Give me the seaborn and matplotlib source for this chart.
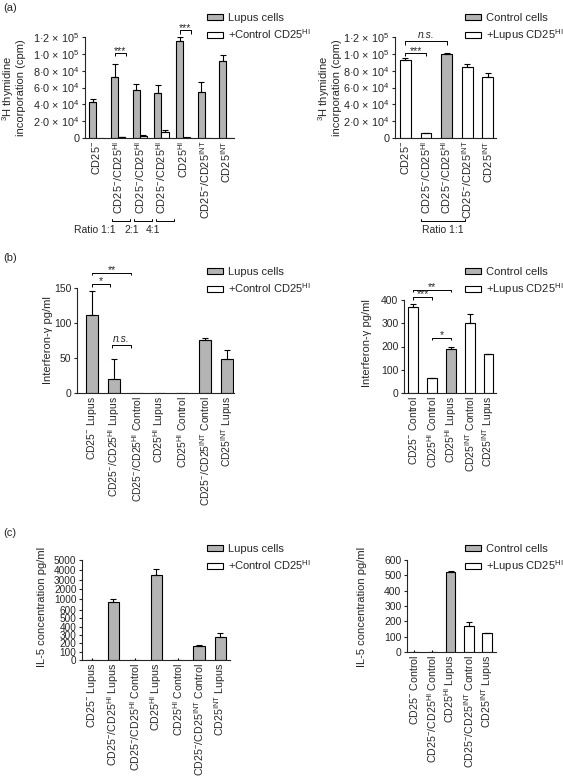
import numpy as np
import pandas as pd
import matplotlib
matplotlib.use("Agg")
import matplotlib.pyplot as plt
import matplotlib.transforms as mtransforms
from matplotlib.patches import Patch
from matplotlib.ticker import FixedLocator
import seaborn as sns

# ---------------- data ----------------
M = "CD25$^{-}$"
HI = "CD25$^{HI}$"
INT = "CD25$^{INT}$"

# (a) proliferation
a_left_labels = [M, M + "/" + HI, M + "/" + HI, M + "/" + HI, HI, M + "/" + INT, INT]
a_left_lupus = [43000, 72000, 57000, 53000, 115000, 55000, 92000]
a_left_lupus_err = [3000, 16000, 7000, 10000, 5000, 12000, 7000]
a_left_ctrl = [300, 1200, 2400, 7100, 600, 400, 300]
a_left_ctrl_err = [0, 300, 600, 2800, 0, 0, 0]
a_left_series = ["Lupus cells", "+Control " + HI]

a_right_labels = [M, M + "/" + HI, M + "/" + HI, M + "/" + INT, INT]
a_right_values = [93000, 5500, 100000, 84000, 72000]
a_right_err = [1500, 300, 1200, 4500, 5000]
a_right_kind = ["w", "w", "g", "w", "w"]
a_right_series = ["Control cells", "+Lupus " + HI]
a_yticks = [0, 20000, 40000, 60000, 80000, 100000, 120000]
a_yticklabels = ["0", "2·0 × 10$^{4}$", "4·0 × 10$^{4}$", "6·0 × 10$^{4}$",
                 "8·0 × 10$^{4}$", "1·0 × 10$^{5}$", "1·2 × 10$^{5}$"]

# (b) interferon-gamma
b_left_labels = [M + " Lupus", M + "/" + HI + " Lupus", M + "/" + HI + " Control",
                 HI + " Lupus", HI + " Control", M + "/" + INT + " Control", INT + " Lupus"]
b_left_values = [112, 20, 0, 0, 0, 76, 49]
b_left_err = [34, 28, 0, 0, 0, 2, 13]
b_right_labels = [M + " Control", HI + " Control", HI + " Lupus", INT + " Control", INT + " Lupus"]
b_right_values = [372, 63, 190, 303, 167]
b_right_err = [10, 2, 10, 38, 2]
b_right_kind = ["w", "w", "g", "w", "w"]

# (c) IL-5
c_left_labels = b_left_labels
c_left_values = [0, 910, 0, 3470, 0, 165, 275]
c_left_err = [25, 90, 25, 600, 25, 15, 45]
c_left_ticks = [0, 100, 200, 300, 400, 500, 600, 1000, 2000, 3000, 4000, 5000]
c_right_labels = [M + " Control", M + "/" + HI + " Control", HI + " Lupus",
                  M + "/" + INT + " Control", INT + " Lupus"]
c_right_values = [0, 0, 520, 172, 122]
c_right_err = [15, 15, 8, 22, 4]
c_right_kind = ["w", "w", "g", "w", "w"]

# ---------------- style ----------------
sns.set_style("ticks")
plt.rcParams["font.family"] = ["Liberation Sans", "DejaVu Sans"]
plt.rcParams["mathtext.fontset"] = "custom"
plt.rcParams["mathtext.rm"] = "Liberation Sans"
plt.rcParams["mathtext.it"] = "Liberation Sans:italic"
plt.rcParams["mathtext.bf"] = "Liberation Sans:bold"
plt.rcParams["mathtext.default"] = "rm"

GREY = "#b4b4b4"
WHITE = "#ffffff"
COL = {"g": GREY, "w": WHITE}
W, H = 563, 779
TICK_FS = 7.5
LAB_FS = 8
LEG_FS = 8
LW = 0.8

fig = plt.figure(figsize=(W / 100, H / 100), dpi=100)


def add_ax(l, t, r, b):
    return fig.add_axes([l / W, 1 - b / H, (r - l) / W, (b - t) / H])


def style_ax(ax, labels, xfs=TICK_FS, yfs=TICK_FS):
    sns.despine(ax=ax)
    for s in ["left", "bottom"]:
        ax.spines[s].set_linewidth(LW)
    ax.tick_params(axis="y", length=2.5, width=LW, pad=1.5, labelsize=yfs, direction="out")
    ax.tick_params(axis="x", length=0, pad=2, labelsize=xfs)
    ax.set_xticks(range(len(labels)))
    ax.set_xticklabels(labels, rotation=90, ha="center", va="top")
    ax.set_xlabel("")
    ax.set_ylabel("")


def draw_err(ax, xs, values, errs):
    v = np.array(values, float)
    e = np.array(errs, float)
    m = (e > 0) & (v > 0)
    ax.errorbar(xs[m], v[m], yerr=[np.zeros(m.sum()), e[m]], fmt="none", ecolor="black",
                elinewidth=LW, capsize=2.2, capthick=LW, zorder=5)
    z = (e > 0) & (v <= 0)
    if z.any():
        ax.errorbar(xs[z], v[z], yerr=[np.zeros(z.sum()), e[z]], fmt="none", ecolor="black",
                    elinewidth=LW, capsize=0, zorder=5)


def single_panel(ax, labels, values, errs, kinds, width):
    keys = ["k%d" % i for i in range(len(values))]
    df = pd.DataFrame({"key": keys, "value": values})
    pal = {k: COL[c] for k, c in zip(keys, kinds)}
    sns.barplot(data=df, x="key", y="value", hue="key", order=keys, hue_order=keys,
                palette=pal, width=width, edgecolor="black", linewidth=LW,
                legend=False, errorbar=None, ax=ax, saturation=1)
    bars = sorted(ax.patches, key=lambda p: p.get_x())
    xs = np.array([p.get_x() + p.get_width() / 2 for p in bars])
    draw_err(ax, xs, values, errs)
    return xs


def bracket(ax, x1, x2, y, drop, text, italic=False, tpad=0.0, fs=7.5):
    ax.plot([x1, x1, x2, x2], [y - drop, y, y, y - drop], color="black", lw=0.7,
            clip_on=False, solid_capstyle="butt")
    ax.text((x1 + x2) / 2, y + tpad, text, ha="center", va="bottom", fontsize=fs,
            style="italic" if italic else "normal", clip_on=False)


def legend(px, py, names):
    handles = [Patch(facecolor=GREY, edgecolor="black", linewidth=LW),
               Patch(facecolor=WHITE, edgecolor="black", linewidth=LW)]
    fig.legend(handles, names, loc="upper left", bbox_to_anchor=(px / W, 1 - py / H),
               frameon=False, fontsize=LEG_FS, handlelength=1.45, handleheight=0.45,
               handletextpad=0.45, labelspacing=0.4, borderpad=0, borderaxespad=0)


def flabel(px, py, text, fs=LAB_FS, rot=90, ls=1.2):
    fig.text(px / W, 1 - py / H, text, rotation=rot, ha="center", va="center", fontsize=fs,
             linespacing=ls)


# ================= (a) left =================
ax = add_ax(85, 37, 234, 138)
dfa = pd.DataFrame({
    "key": ["k%d" % i for i in range(7)] * 2,
    "value": a_left_lupus + a_left_ctrl,
    "series": [a_left_series[0]] * 7 + [a_left_series[1]] * 7,
})
sns.barplot(data=dfa, x="key", y="value", hue="series", palette=[GREY, WHITE],
            width=0.66, dodge=True, edgecolor="black", linewidth=LW, legend=False,
            errorbar=None, ax=ax, saturation=1)
pat = ax.patches
gx = np.array([p.get_x() + p.get_width() / 2 for p in pat[:7]])
wx = np.array([p.get_x() + p.get_width() / 2 for p in pat[7:14]])
draw_err(ax, gx, a_left_lupus, a_left_lupus_err)
draw_err(ax, wx, a_left_ctrl, a_left_ctrl_err)
style_ax(ax, a_left_labels, xfs=7.9, yfs=7.8)
ax.set_ylim(0, 120000)
ax.set_xlim(-0.53, 6.35)
ax.set_yticks(a_yticks)
ax.set_yticklabels(a_yticklabels)
bracket(ax, gx[1], wx[1] + 0.2, 101000, 4000, "***", tpad=-3500)
bracket(ax, gx[4], wx[4] + 0.2, 128000, 4000, "***", tpad=-3500)
# ratio brackets
tr = mtransforms.blended_transform_factory(ax.transData, fig.transFigure)
for i in [1, 2, 3]:
    c = i + 0.15
    ax.plot([c - 0.42, c - 0.42, c + 0.42, c + 0.42],
            [1 - 218.5 / H, 1 - 221.5 / H, 1 - 221.5 / H, 1 - 218.5 / H],
            color="black", lw=0.7, transform=tr, clip_on=False)
ax.text(1 - 0.1, 1 - 230 / H, "Ratio 1:1", transform=tr, ha="right", va="center", fontsize=TICK_FS)
ax.text(2 - 0.35, 1 - 230 / H, "2:1", transform=tr, ha="center", va="center", fontsize=TICK_FS)
ax.text(3 - 0.4, 1 - 230 / H, "4:1", transform=tr, ha="center", va="center", fontsize=TICK_FS)
flabel(13, 88, "$^{3}$H thymidine\nincorporation (cpm)", ls=0.95)
legend(207, 13, a_left_series)

# ================= (a) right =================
ax = add_ax(395, 37, 496, 138)
xs = single_panel(ax, a_right_labels, a_right_values, a_right_err, a_right_kind, 0.52)
style_ax(ax, a_right_labels, xfs=7.9, yfs=7.8)
ax.set_ylim(0, 120000)
ax.set_xlim(-0.5, 4.4)
ax.set_yticks(a_yticks)
ax.set_yticklabels(a_yticklabels)
bracket(ax, xs[0], xs[2], 115000, 4000, "n.s.", italic=True, tpad=1000)
bracket(ax, xs[0], xs[1], 101000, 4000, "***", tpad=-3500)
tr = mtransforms.blended_transform_factory(ax.transData, fig.transFigure)
ax.plot([0.78, 0.78, 2.9, 2.9], [1 - 218.5 / H, 1 - 221.5 / H, 1 - 221.5 / H, 1 - 218.5 / H],
        color="black", lw=0.7, transform=tr, clip_on=False)
ax.text(1.84, 1 - 230 / H, "Ratio 1:1", transform=tr, ha="center", va="center", fontsize=TICK_FS)
flabel(329, 88, "$^{3}$H thymidine\nincorporation (cpm)", ls=0.95)
legend(465, 13, a_right_series)

# ================= (b) left =================
ax = add_ax(77, 288, 234, 393)
xs = single_panel(ax, b_left_labels, b_left_values, b_left_err, ["g"] * 7, 0.52)
style_ax(ax, b_left_labels)
ax.set_ylim(0, 150)
ax.set_xlim(-0.65, 6.3)
ax.set_yticks([0, 50, 100, 150])
bracket(ax, xs[0], xs[2] - 0.25, 172, 4, "**", tpad=-3)
bracket(ax, xs[0], xs[1] - 0.2, 156, 4, "*", tpad=-3)
bracket(ax, xs[1] - 0.1, xs[2] - 0.25, 69, 4, "n.s.", italic=True, tpad=1)
flabel(48, 340, "Interferon-γ pg/ml")
legend(207, 267, a_left_series)

# ================= (b) right =================
ax = add_ax(404, 300, 496, 393)
xs = single_panel(ax, b_right_labels, b_right_values, b_right_err, b_right_kind, 0.53)
style_ax(ax, b_right_labels)
ax.set_ylim(0, 400)
ax.set_xlim(-0.5, 4.4)
ax.set_yticks([0, 100, 200, 300, 400])
bracket(ax, xs[0], xs[2], 443, 10, "**", tpad=-8)
bracket(ax, xs[0], xs[1], 411, 10, "***", tpad=-8)
bracket(ax, xs[1], xs[2], 237, 10, "*", tpad=-8)
flabel(367, 343, "Interferon-γ pg/ml")
legend(465, 267, a_right_series)

# ================= (c) left =================
ax = add_ax(82, 560, 230, 660)
xs = single_panel(ax, c_left_labels, c_left_values, c_left_err, ["g"] * 7, 0.52)
style_ax(ax, c_left_labels, xfs=7.7, yfs=7.2)


def fwd(v):
    v = np.asarray(v, dtype=float)
    return np.where(v <= 600, v * 0.083,
                    np.where(v <= 1000, 49.8 + (v - 600) * 0.0275, 60.8 + (v - 1000) * 0.00975))


def inv(u):
    u = np.asarray(u, dtype=float)
    return np.where(u <= 49.8, u / 0.083,
                    np.where(u <= 60.8, 600 + (u - 49.8) / 0.0275, 1000 + (u - 60.8) / 0.00975))


ax.set_yscale("function", functions=(fwd, inv))
ax.set_ylim(0, 5000)
ax.yaxis.set_major_locator(FixedLocator(c_left_ticks))
ax.set_yticklabels([str(t) for t in c_left_ticks])
ax.yaxis.set_minor_locator(FixedLocator([]))
ax.set_xlim(-0.47, 6.45)
flabel(42, 607, "IL-5 concentration pg/ml")
legend(207, 544, a_left_series)

# ================= (c) right =================
ax = add_ax(407, 560, 496, 652)
xs = single_panel(ax, c_right_labels, c_right_values, c_right_err, c_right_kind, 0.53)
style_ax(ax, c_right_labels, xfs=7.7)
ax.set_ylim(0, 600)
ax.set_xlim(-0.4, 4.5)
ax.set_yticks([0, 100, 200, 300, 400, 500, 600])
flabel(362, 607, "IL-5 concentration pg/ml")
legend(465, 544, a_right_series)

# panel letters
fig.text(3 / W, 1 - 8 / H, "(a)", fontsize=LAB_FS, ha="left", va="center")
fig.text(3 / W, 1 - 258 / H, "(b)", fontsize=LAB_FS, ha="left", va="center")
fig.text(3 / W, 1 - 533 / H, "(c)", fontsize=LAB_FS, ha="left", va="center")

fig.savefig("out.png", dpi=100)
